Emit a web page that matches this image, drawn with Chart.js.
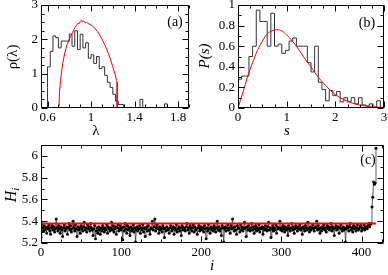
<!DOCTYPE html>
<html>
<head>
<meta charset="utf-8">
<script src="https://cdn.jsdelivr.net/npm/chart.js@4.4.1/dist/chart.umd.min.js"></script>
<style>
  html, body { margin: 0; padding: 0; background: #fff; }
  #wrap { position: relative; width: 388px; height: 275px; overflow: hidden; }
  canvas { position: absolute; }
</style>
</head>
<body>
<div id="wrap">
  <canvas id="chartA" width="195" height="140" style="left:0;top:0"></canvas>
  <canvas id="chartB" width="193" height="140" style="left:195px;top:0"></canvas>
  <canvas id="chartC" width="388" height="140" style="left:0;top:135px"></canvas>
</div>
<script>
// ---- panel (a): eigenvalue density ----
const lambdaBinStart = 0.6;
const lambdaBinWidth = 0.025;
const lambdaCounts = [0.6, 1.2, 1.65, 2.1, 2.05, 1.75, 1.95, 1.95, 1.95, 2.15,
                      1.8, 2.25, 1.7, 2.15, 1.75, 1.9, 1.45, 1.55, 1.3, 1.5,
                      1.15, 1.2, 0.95, 0.75, 0.6, 0.4, 0.2, 0.1, 0.1, 0,
                      0, 0, 0, 0, 0, 0.25, 0, 0, 0, 0,
                      0, 0, 0, 0, 0.12, 0];
const lambdaCurveX = [0.705, 0.71, 0.72, 0.727, 0.74, 0.758, 0.78, 0.805, 0.83, 0.85,
                      0.865, 0.88, 0.89, 0.9, 0.913, 0.92, 0.93, 0.94, 0.96, 0.98,
                      1.0, 1.02, 1.04, 1.06, 1.08, 1.1, 1.12, 1.14, 1.16, 1.18,
                      1.2, 1.22, 1.235, 1.24, 1.24];
const lambdaCurveY = [0, 0.45, 0.8, 1.0, 1.3, 1.6, 1.85, 2.04, 2.2, 2.34,
                      2.4, 2.47, 2.45, 2.52, 2.56, 2.51, 2.54, 2.5, 2.49, 2.45,
                      2.42, 2.37, 2.3, 2.22, 2.12, 2.01, 1.88, 1.74, 1.58, 1.4,
                      1.2, 0.98, 0.8, 0.75, 0];
const aXTicks = [0.6, 1, 1.4, 1.8];
const aYTicks = [0, 1, 2, 3];

// ---- panel (b): spacing distribution ----
const sBinStart = 0;
const sBinWidth = 0.075;
const sCounts = [0.1, 0.28, 0.31, 0.31, 0.5, 0.6, 0.95, 0.84, 0.84, 0.6,
                 0.92, 0.6, 0.62, 0.53, 0.56, 0.65, 0.68, 0.6, 0.6, 0.6,
                 0.44, 0.35, 0.6, 0.25, 0.18, 0.07, 0.17, 0.12, 0.16, 0.06,
                 0.1, 0.06, 0.1, 0.04, 0.1, 0.03, 0.02, 0.04, 0.01, 0.07];
const sCurveX = [0, 0.1, 0.2, 0.3, 0.4, 0.5, 0.6, 0.7, 0.8, 0.9, 1.0, 1.1, 1.2, 1.3,
                 1.4, 1.5, 1.6, 1.7, 1.8, 1.9, 2.0, 2.2, 2.4, 2.6, 2.8, 3.0];
const sCurveY = [0, 0.15, 0.31, 0.44, 0.56, 0.65, 0.72, 0.75, 0.76, 0.75, 0.71, 0.66, 0.6, 0.53,
                 0.46, 0.4, 0.33, 0.27, 0.22, 0.17, 0.13, 0.075, 0.04, 0.02, 0.01, 0.005];
const bXTicks = [0, 1, 2, 3];
const bYTicks = [0, 0.2, 0.4, 0.6, 0.8, 1];

// ---- panel (c): H_i sequence ----
const hValues = [
  5.25,5.38,5.34,5.31,5.36,5.32,5.34,5.29,5.35,5.33,5.37,5.31,5.28,5.34,5.36,5.32,5.35,5.30,5.33,5.42,
  5.34,5.31,5.36,5.33,5.29,5.35,5.32,5.26,5.34,5.37,5.31,5.33,5.35,5.28,5.34,5.38,5.32,5.36,5.30,5.33,
  5.40,5.34,5.31,5.37,5.33,5.26,5.35,5.32,5.34,5.29,5.36,5.33,5.31,5.35,5.39,5.32,5.34,5.30,5.37,5.33,
  5.35,5.31,5.38,5.34,5.32,5.27,5.33,5.36,5.24,5.31,5.34,5.29,5.35,5.32,5.28,5.34,5.31,5.36,5.33,5.30,
  5.34,5.32,5.37,5.29,5.35,5.33,5.31,5.34,5.39,5.32,5.36,5.30,5.33,5.35,5.28,5.34,5.37,5.31,5.33,5.36,
  5.32,5.34,5.23,5.35,5.31,5.38,5.33,5.29,5.36,5.32,5.34,5.27,5.35,5.31,5.33,5.37,5.30,5.34,5.21,5.32,
  5.35,5.31,5.33,5.36,5.29,5.34,5.32,5.37,5.30,5.34,5.26,5.33,5.35,5.31,5.36,5.32,5.28,5.34,5.33,5.40,
  5.32,5.35,5.42,5.31,5.34,5.37,5.33,5.29,5.35,5.32,5.34,5.30,5.36,5.33,5.25,5.34,5.31,5.35,5.32,5.33,
  5.29,5.34,5.36,5.31,5.33,5.35,5.28,5.34,5.32,5.37,5.30,5.33,5.35,5.31,5.34,5.27,5.36,5.32,5.34,5.33,
  5.31,5.35,5.38,5.32,5.34,5.29,5.36,5.33,5.31,5.34,5.37,5.30,5.35,5.32,5.33,5.28,5.34,5.36,5.31,5.33,
  5.35,5.32,5.34,5.30,5.36,5.33,5.24,5.34,5.31,5.37,5.33,5.29,5.35,5.32,5.34,5.31,5.36,5.33,5.30,5.34,
  5.40,5.32,5.35,5.31,5.33,5.27,5.36,5.34,5.21,5.33,5.35,5.31,5.34,5.37,5.32,5.34,5.29,5.36,5.33,5.42,
  5.34,5.31,5.35,5.32,5.28,5.36,5.33,5.34,5.30,5.37,5.32,5.35,5.31,5.33,5.39,5.34,5.26,5.35,5.32,5.36,
  5.33,5.31,5.34,5.38,5.32,5.35,5.29,5.33,5.36,5.31,5.34,5.32,5.37,5.30,5.34,5.33,5.35,5.28,5.34,5.32,
  5.36,5.33,5.31,5.35,5.39,5.32,5.34,5.25,5.33,5.36,5.31,5.34,5.32,5.37,5.29,5.35,5.33,5.34,5.40,5.32,
  5.34,5.31,5.36,5.33,5.30,5.35,5.32,5.34,5.27,5.36,5.33,5.31,5.34,5.38,5.32,5.35,5.29,5.33,5.36,5.34,
  5.31,5.35,5.33,5.37,5.32,5.34,5.28,5.35,5.33,5.31,5.36,5.34,5.32,5.39,5.33,5.30,5.35,5.32,5.34,5.37,
  5.33,5.31,5.35,5.34,5.40,5.32,5.36,5.33,5.29,5.34,5.31,5.35,5.33,5.37,5.32,5.34,5.30,5.36,5.33,5.35,
  5.32,5.34,5.38,5.31,5.35,5.33,5.27,5.34,5.36,5.32,5.33,5.35,5.29,5.34,5.37,5.33,5.31,5.35,5.32,5.34,
  5.21,5.33,5.36,5.34,5.31,5.35,5.38,5.32,5.34,5.30,5.36,5.33,5.35,5.31,5.34,5.37,5.32,5.33,5.35,5.36,
  5.31,5.34,5.33,5.37,5.32,5.35,5.34,5.33,5.36,5.38,5.35,5.37,5.38,
  5.53,5.62,5.76,5.74,5.75,6.07
];
const hMeanLevel = 5.38;
const hMeanRange = [0, 418];
const cXTicks = [0, 100, 200, 300, 400];
const cYTicks = [5.2, 5.4, 5.6, 5.8, 6];

const SERIF = "'Liberation Serif', 'DejaVu Serif', serif";

// step outline of a histogram, drawn with stepped:'after'
function stepOutline(start, width, counts) {
    const pts = [{ x: start, y: 0 }];
    counts.forEach((v, k) => pts.push({ x: start + k * width, y: v }));
    pts.push({ x: start + counts.length * width, y: 0 });
    return pts;
}

function zip(xs, ys) {
    return xs.map((x, i) => ({ x: x, y: ys[i] }));
}

function tickMarks(min, max, step) {
    const out = [];
    for (let k = Math.ceil(min / step - 1e-6); k * step <= max + 1e-9; k++) out.push(k * step);
    return out;
}

// closed frame with inward ticks on all four sides
const frameTicks = {
    id: 'frameTicks',
    afterDatasetsDraw(chart, args, o) {
        const { ctx, chartArea: a } = chart;
        const x = chart.scales.x, y = chart.scales.y;
        const l = Math.round(a.left) + 0.5, r = Math.round(a.right) - 0.5;
        const t = Math.round(a.top) + 0.5, b = Math.round(a.bottom) - 0.5;
        const isMajor = (scale, v) => scale.ticks.some(tk => Math.abs(tk.value - v) < 1e-6);
        ctx.save();
        ctx.strokeStyle = '#000';
        ctx.lineWidth = 1;
        ctx.beginPath();
        ctx.rect(l, t, r - l, b - t);
        tickMarks(x.min, x.max, o.xMinor).forEach(v => {
            const px = Math.round(x.getPixelForValue(v)) + 0.5;
            const len = isMajor(x, v) ? 6 : 3;
            ctx.moveTo(px, b); ctx.lineTo(px, b - len);
            ctx.moveTo(px, t); ctx.lineTo(px, t + len);
        });
        tickMarks(y.min, y.max, o.yMinor).forEach(v => {
            const py = Math.round(y.getPixelForValue(v)) + 0.5;
            const len = isMajor(y, v) ? 6 : 3;
            ctx.moveTo(l, py); ctx.lineTo(l + len, py);
            ctx.moveTo(r, py); ctx.lineTo(r - len, py);
        });
        ctx.stroke();
        ctx.restore();
    }
};

// free text (axis titles, panel tags)
const textLabels = {
    id: 'textLabels',
    afterDraw(chart, args, o) {
        const ctx = chart.ctx;
        (o.items || []).forEach(it => {
            ctx.save();
            ctx.translate(it.x, it.y);
            if (it.rot) ctx.rotate(it.rot);
            ctx.fillStyle = '#000';
            ctx.textBaseline = 'middle';
            ctx.textAlign = 'left';
            let w = 0;
            it.parts.forEach(p => { ctx.font = p.font; w += ctx.measureText(p.t).width; });
            let cx = -w / 2;
            it.parts.forEach(p => {
                ctx.font = p.font;
                ctx.fillText(p.t, cx, p.dy || 0);
                cx += ctx.measureText(p.t).width;
            });
            ctx.restore();
        });
    }
};

function axis(min, max, tickVals, fixed, pad) {
    return {
        type: 'linear',
        min: min,
        max: max,
        grid: { display: false, drawTicks: false },
        border: { display: false },
        afterBuildTicks: s => { s.ticks = tickVals.map(v => ({ value: v })); },
        afterFit: s => {
            if (s.isHorizontal()) s.height = fixed; else s.width = fixed;
            s.paddingTop = 0; s.paddingBottom = 0; s.paddingLeft = 0; s.paddingRight = 0;
        },
        ticks: {
            color: '#000',
            padding: pad,
            maxRotation: 0,
            autoSkip: false,
            font: { family: SERIF, size: 13 },
            callback: v => String(+Number(v).toFixed(2))
        }
    };
}

function baseOptions(padding, xAxis, yAxis, minor, items) {
    return {
        responsive: false,
        animation: false,
        devicePixelRatio: 1,
        layout: { padding: padding },
        scales: { x: xAxis, y: yAxis },
        plugins: {
            legend: { display: false },
            tooltip: { enabled: false },
            frameTicks: minor,
            textLabels: { items: items }
        }
    };
}

// panel (a)
new Chart(document.getElementById('chartA'), {
    type: 'line',
    data: {
        datasets: [{
            data: zip(lambdaCurveX, lambdaCurveY),
            borderColor: '#ff0000',
            borderWidth: 1,
            pointRadius: 0,
            tension: 0,
            order: 0
        }, {
            data: stepOutline(lambdaBinStart, lambdaBinWidth, lambdaCounts),
            borderColor: '#333',
            borderWidth: 1,
            pointRadius: 0,
            stepped: 'after',
            order: 1
        }]
    },
    options: baseOptions({ left: 0, top: 5, right: 6, bottom: 0 },
        axis(0.54, 1.9, aXTicks, 32, 2),
        axis(0, 3, aYTicks, 41, 3),
        { xMinor: 0.1, yMinor: 0.25 },
        [
            { x: 13, y: 57, rot: -Math.PI / 2, parts: [{ t: 'ρ(λ)', font: '15px ' + SERIF }] },
            { x: 96, y: 131, parts: [{ t: 'λ', font: '15px ' + SERIF }] },
            { x: 175, y: 22, parts: [{ t: '(a)', font: '14px ' + SERIF }] }
        ]),
    plugins: [frameTicks, textLabels]
});

// panel (b)
new Chart(document.getElementById('chartB'), {
    type: 'line',
    data: {
        datasets: [{
            data: zip(sCurveX, sCurveY),
            borderColor: '#ff0000',
            borderWidth: 1,
            pointRadius: 0,
            cubicInterpolationMode: 'monotone',
            order: 0
        }, {
            data: stepOutline(sBinStart, sBinWidth, sCounts),
            borderColor: '#333',
            borderWidth: 1,
            pointRadius: 0,
            stepped: 'after',
            order: 1
        }]
    },
    options: baseOptions({ left: 0, top: 5, right: 4, bottom: 0 },
        axis(0, 3, bXTicks, 32, 2),
        axis(0, 1, bYTicks, 43, 3),
        { xMinor: 0.25, yMinor: 0.1 },
        [
            { x: 10, y: 56, rot: -Math.PI / 2, parts: [{ t: 'P(s)', font: 'italic 15px ' + SERIF }] },
            { x: 92, y: 131, parts: [{ t: 's', font: 'italic 15px ' + SERIF }] },
            { x: 172, y: 23, parts: [{ t: '(b)', font: '14px ' + SERIF }] }
        ]),
    plugins: [frameTicks, textLabels]
});

// panel (c)
new Chart(document.getElementById('chartC'), {
    type: 'line',
    data: {
        datasets: [{
            data: [{ x: hMeanRange[0], y: hMeanLevel }, { x: hMeanRange[1], y: hMeanLevel }],
            borderColor: '#ff0000',
            borderWidth: 2,
            pointRadius: 0,
            order: 0
        }, {
            data: hValues.map((v, i) => ({ x: i, y: v })),
            borderColor: '#333',
            borderWidth: 0.8,
            pointRadius: 1.5,
            pointBorderWidth: 0,
            pointBackgroundColor: '#000',
            tension: 0,
            order: 1
        }]
    },
    options: baseOptions({ left: 0, top: 10, right: 4, bottom: 0 },
        axis(0, 428, cXTicks, 32, 2),
        axis(5.2, 6.1, cYTicks, 41, 3),
        { xMinor: 25, yMinor: 0.1 },
        [
            { x: 12, y: 60, rot: -Math.PI / 2, parts: [
                { t: 'H', font: 'italic 16px ' + SERIF },
                { t: 'i', font: 'italic 11px ' + SERIF, dy: 4 }
            ] },
            { x: 212, y: 131, parts: [{ t: 'i', font: 'italic 15px ' + SERIF }] },
            { x: 368, y: 25, parts: [{ t: '(c)', font: '14px ' + SERIF }] }
        ]),
    plugins: [frameTicks, textLabels]
});
</script>
</body>
</html>
